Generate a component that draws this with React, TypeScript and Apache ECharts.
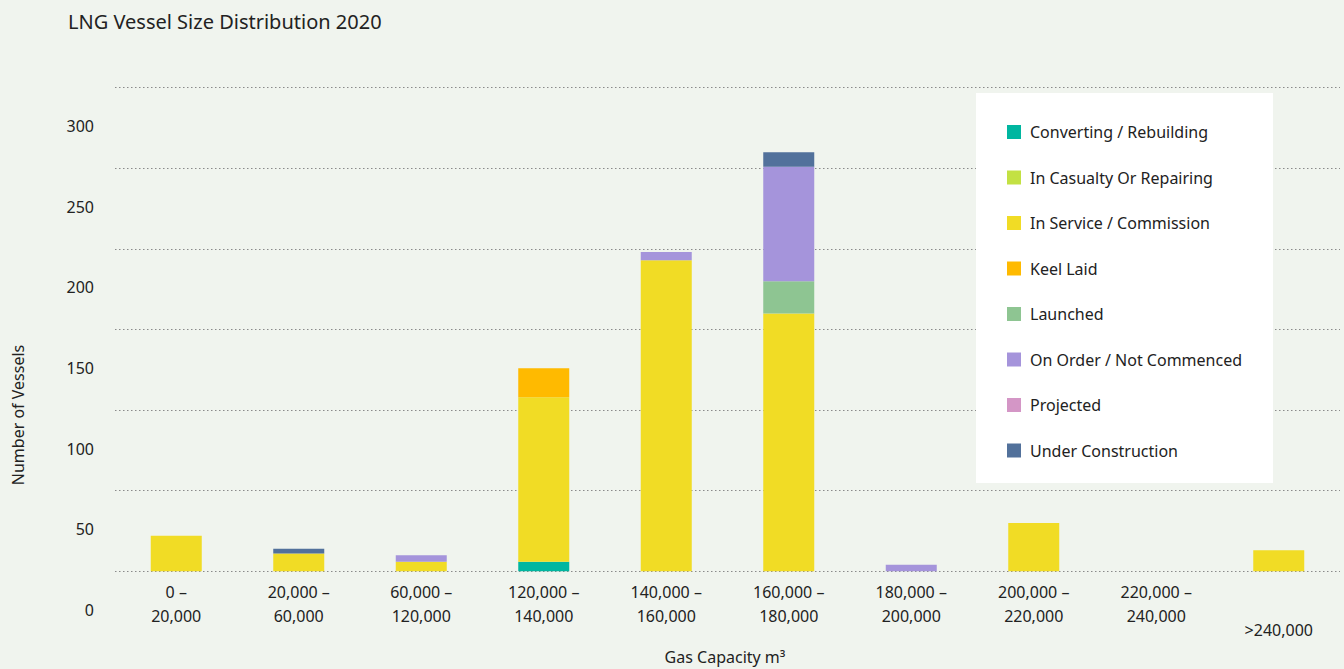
import React, { useEffect, useRef } from "react";
import * as echarts from "echarts";

const categories = [
  "0 –\n20,000",
  "20,000 –\n60,000",
  "60,000 –\n120,000",
  "120,000 –\n140,000",
  "140,000 –\n160,000",
  "160,000 –\n180,000",
  "180,000 –\n200,000",
  "200,000 –\n220,000",
  "220,000 –\n240,000",
  ">240,000",
];

const seriesNames = [
  "Converting / Rebuilding",
  "In Casualty Or Repairing",
  "In Service / Commission",
  "Keel Laid",
  "Launched",
  "On Order / Not Commenced",
  "Projected",
  "Under Construction",
];

const converting = [0, 0, 0, 6, 0, 0, 0, 0, 0, 0];
const casualty = [0, 0, 0, 0, 0, 0, 0, 0, 0, 0];
const inService = [22, 11, 6, 102, 193, 160, 0, 30, 0, 13];
const keelLaid = [0, 0, 0, 18, 0, 0, 0, 0, 0, 0];
const launched = [0, 0, 0, 0, 0, 20, 0, 0, 0, 0];
const onOrder = [0, 0, 4, 0, 5, 71, 4, 0, 0, 0];
const projected = [0, 0, 0, 0, 0, 0, 0, 0, 0, 0];
const underConstruction = [0, 3, 0, 0, 0, 9, 0, 0, 0, 0];

const seriesData = [converting, casualty, inService, keelLaid, launched, onOrder, projected, underConstruction];
const colors = ["#00b6a0", "#c3e143", "#f1dc25", "#ffba00", "#8ec592", "#a594db", "#d496c6", "#52719b"];

const yTicks = [0, 50, 100, 150, 200, 250, 300];

const xAxisTitle = "Gas Capacity m³";
const yAxisTitle = "Number of Vessels";

const FONT = "Noto Sans";
const TEXT = "#222222";

export default function App() {
  const ref = useRef<HTMLDivElement>(null);
  useEffect(() => {
    if (!ref.current) return;
    const chart = echarts.init(ref.current, undefined, { renderer: "svg" });
    chart.setOption({
      animation: false,
      backgroundColor: "#f0f4ee",
      textStyle: { fontFamily: FONT, color: TEXT },
      title: {
        text: "LNG Vessel Size Distribution 2020",
        left: 63,
        top: 6,
        textStyle: { fontFamily: FONT, fontSize: 20, fontWeight: "normal", color: TEXT },
      },
      grid: { left: 115, right: 4, top: 87.7, bottom: 97.7, containLabel: false, outerBoundsMode: "none" },
      legend: {
        orient: "vertical",
        left: 1007,
        top: 122,
        padding: 0,
        itemWidth: 14,
        itemHeight: 14,
        itemGap: 25.5,
        icon: "rect",
        selectedMode: false,
        data: seriesNames,
        textStyle: { fontFamily: FONT, fontSize: 16, color: TEXT, lineHeight: 20, padding: [0, 0, 0, 4] },
      },
      graphic: [
        {
          type: "rect",
          z: 3,
          shape: { x: 976, y: 93, width: 297, height: 390 },
          style: { fill: "#ffffff" },
          silent: true,
        },
        {
          type: "text",
          z: 3,
          x: 18,
          y: 415,
          rotation: Math.PI / 2,
          style: {
            text: yAxisTitle,
            fontFamily: FONT,
            fontSize: 16,
            fill: TEXT,
            align: "center",
            verticalAlign: "middle",
          },
        },
        {
          type: "text",
          z: 3,
          x: 725,
          y: 657,
          style: {
            text: xAxisTitle,
            fontFamily: FONT,
            fontSize: 16,
            fill: TEXT,
            align: "center",
            verticalAlign: "middle",
          },
        },
      ],
      xAxis: {
        type: "category",
        data: categories,
        axisLine: { show: false },
        axisTick: { show: false },
        axisLabel: {
          interval: 0,
          margin: 9,
          fontFamily: FONT,
          fontSize: 16,
          lineHeight: 24,
          color: TEXT,
          formatter: (v: string) => (v.indexOf("\n") < 0 ? "{low|" + v + "}" : v),
          rich: { low: { fontFamily: FONT, fontSize: 16, color: TEXT, lineHeight: 99 } },
        },
      },
      yAxis: {
        type: "value",
        min: yTicks[0],
        max: yTicks[yTicks.length - 1],
        interval: 50,
        axisLine: { show: false },
        axisTick: { show: false },
        axisLabel: {
          margin: 21,
          fontFamily: FONT,
          fontSize: 16,
          color: TEXT,
          verticalAlign: "top",
          lineHeight: 77,
        },
        splitLine: { show: true, lineStyle: { color: "#8a8a8a", type: [1.5, 2.5], width: 1 } },
      },
      series: seriesNames.map((name, i) => ({
        name,
        type: "bar",
        stack: "total",
        barWidth: 51,
        itemStyle: { color: colors[i] },
        data: seriesData[i],
      })),
    });
    return () => chart.dispose();
  }, []);
  return <div ref={ref} style={{ position: "fixed", left: 0, top: 0, width: 1344, height: 669 }} />;
}
